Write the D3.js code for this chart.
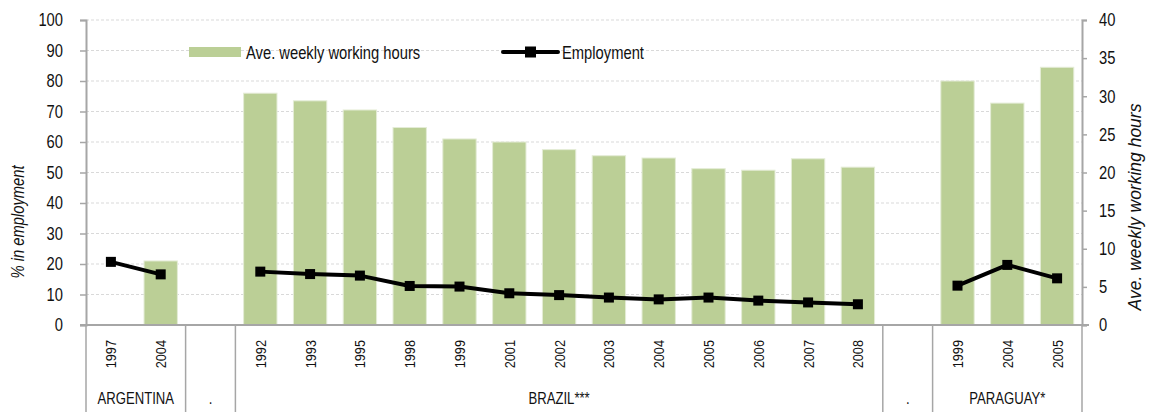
<!DOCTYPE html>
<html>
<head>
<meta charset="utf-8">
<script src="https://cdn.jsdelivr.net/npm/d3@7"></script>
<style>
  body { margin: 0; background: #fff; }
  svg { font-family: "Liberation Sans", Arial, sans-serif; }
</style>
</head>
<body>
<div id="chart"></div>
<script>
// Country groups and the survey years under each
var groups = ["ARGENTINA", ".", "BRAZIL***", ".", "PARAGUAY*"];
var groupYears = [
  ["1997", "2004"],
  [""],
  ["1992", "1993", "1995", "1998", "1999", "2001", "2002", "2003", "2004", "2005", "2006", "2007", "2008"],
  [""],
  ["1999", "2004", "2005"]
];

// Ave. weekly working hours (right axis), one per category
var hours = [null, 8.4,
  null,
  30.4, 29.4, 28.2, 25.9, 24.4, 24.0, 23.0, 22.2, 21.9, 20.5, 20.3, 21.8, 20.7,
  null,
  32.0, 29.1, 33.8];

// % in employment (left axis)
var employment = [20.7, 16.6,
  null,
  17.5, 16.7, 16.2, 12.8, 12.6, 10.4, 9.8, 9.0, 8.4, 9.0, 8.0, 7.4, 6.8,
  null,
  12.9, 19.7, 15.3];

var leftTicks = d3.range(0, 101, 10);
var rightTicks = d3.range(0, 41, 5);

// the original uses a narrow face; squeeze Liberation Sans horizontally
var NARROW = 0.82;

// flatten categories
var cats = [];
groupYears.forEach(function(ys, gi) {
  ys.forEach(function(y) { cats.push({ group: gi, year: y, key: gi + "|" + y }); });
});
cats.forEach(function(c, i) { c.hours = hours[i]; c.emp = employment[i]; });

var margin = {top: 20, right: 77, bottom: 87, left: 86},
    width = 1159 - margin.left - margin.right,
    height = 412 - margin.top - margin.bottom;

var svg = d3.select("#chart").append("svg")
    .attr("width", 1159)
    .attr("height", 412)
  .append("g")
    .attr("transform", "translate(" + margin.left + "," + margin.top + ")");

var x = d3.scaleBand()
    .domain(cats.map(function(d) { return d.key; }))
    .range([0, width])
    .padding(0);

var yL = d3.scaleLinear().domain([0, 100]).range([height, 0]);
var yR = d3.scaleLinear().domain([0, 40]).range([height, 0]);

// text helper: position, optional rotation, then horizontal squeeze
function label(parent, px, py, rot, str, size, anchor, italic, sx) {
  return parent.append("text")
    .attr("transform", "translate(" + px + "," + py + ")" + (rot ? " rotate(" + rot + ")" : "") + " scale(" + (sx || NARROW) + ",1)")
    .attr("text-anchor", anchor || "start")
    .attr("font-size", size)
    .attr("font-style", italic ? "italic" : "normal")
    .attr("fill", "#111")
    .text(str);
}

// Gridlines
svg.append("g")
    .selectAll("line")
    .data(leftTicks.filter(function(t) { return t > 0; }))
    .enter().append("line")
    .attr("x1", 0).attr("x2", width)
    .attr("y1", function(d) { return yL(d); })
    .attr("y2", function(d) { return yL(d); })
    .attr("stroke", "#d9d9d9")
    .attr("stroke-dasharray", "3,2")
    .attr("stroke-width", 1);

// Bars
var bw = x.bandwidth() * 0.67;
svg.selectAll(".bar")
    .data(cats.filter(function(d) { return d.hours != null; }))
    .enter().append("rect")
    .attr("class", "bar")
    .attr("x", function(d) { return x(d.key) + (x.bandwidth() - bw) / 2; })
    .attr("width", bw)
    .attr("y", function(d) { return yR(d.hours); })
    .attr("height", function(d) { return height - yR(d.hours); })
    .attr("fill", "#bbcf96")
    .attr("stroke", "#e4ecd6")
    .attr("stroke-width", 1);

// Employment line, broken at gaps
var line = d3.line()
    .defined(function(d) { return d.emp != null; })
    .x(function(d) { return x(d.key) + x.bandwidth() / 2; })
    .y(function(d) { return yL(d.emp); });

svg.append("path")
    .datum(cats)
    .attr("fill", "none")
    .attr("stroke", "#000")
    .attr("stroke-width", 4)
    .attr("stroke-linejoin", "round")
    .attr("d", line);

svg.selectAll(".pt")
    .data(cats.filter(function(d) { return d.emp != null; }))
    .enter().append("rect")
    .attr("class", "pt")
    .attr("x", function(d) { return x(d.key) + x.bandwidth() / 2 - 5; })
    .attr("y", function(d) { return yL(d.emp) - 5; })
    .attr("width", 10)
    .attr("height", 10)
    .attr("fill", "#000");

// squeeze axis tick texts in place
function squeeze(sel) {
  sel.selectAll(".tick text").each(function() {
    var t = d3.select(this);
    var tx = +t.attr("x");
    t.attr("x", 0).attr("transform", "translate(" + tx + ",0) scale(" + NARROW + ",1)");
  });
}

// Left axis
var axL = svg.append("g")
    .call(d3.axisLeft(yL).tickValues(leftTicks).tickSize(6).tickPadding(17));
axL.select(".domain").attr("stroke", "#a6a6a6").attr("stroke-width", 2);
axL.selectAll(".tick line").attr("stroke", "#a6a6a6").attr("stroke-width", 1.5);
axL.selectAll("text").attr("font-size", 18).attr("fill", "#111")
    .attr("font-family", "Liberation Sans, Arial");
squeeze(axL);

// Right axis
var axR = svg.append("g")
    .attr("transform", "translate(" + width + ",0)")
    .call(d3.axisRight(yR).tickValues(rightTicks).tickSize(5).tickPadding(12));
axR.select(".domain").attr("stroke", "#a6a6a6").attr("stroke-width", 2);
axR.selectAll(".tick line").attr("stroke", "#a6a6a6").attr("stroke-width", 1.5);
axR.selectAll("text").attr("font-size", 18).attr("fill", "#111")
    .attr("font-family", "Liberation Sans, Arial");
squeeze(axR);

// Bottom axis line
svg.append("line")
    .attr("x1", -6).attr("x2", width + 7)
    .attr("y1", height).attr("y2", height)
    .attr("stroke", "#a6a6a6").attr("stroke-width", 2);

// Year labels
cats.forEach(function(d) {
  label(svg, x(d.key) + x.bandwidth() / 2 + 5.5, height + 15, -90, d.year, 15.5, "end");
});

// Group separators and labels
var bounds = [0];
var idx = 0;
groupYears.forEach(function(ys) { idx += ys.length; bounds.push(idx); });
function edge(i) { return i === cats.length ? width : x(cats[i].key); }

svg.selectAll(".sep")
    .data(bounds)
    .enter().append("line")
    .attr("class", "sep")
    .attr("x1", function(d) { return edge(d); })
    .attr("x2", function(d) { return edge(d); })
    .attr("y1", height)
    .attr("y2", height + margin.bottom)
    .attr("stroke", "#a6a6a6")
    .attr("stroke-width", 1.5);

groups.forEach(function(g, i) {
  label(svg, (edge(bounds[i]) + edge(bounds[i + 1])) / 2, height + 79, 0, g, 16, "middle");
});

// Axis titles
label(svg, -62, 222 - margin.top, -90, "%  in employment", 18, "middle", true);
label(svg, width + 59, 207 - margin.top, -90, "Ave. weekly working hours", 17.5, "middle", true, 1);

// Legend
var lg = svg.append("g").attr("transform", "translate(" + (189 - margin.left) + "," + (52 - margin.top) + ")");
lg.append("rect").attr("x", 0).attr("y", -5).attr("width", 52).attr("height", 10).attr("fill", "#bbcf96");
label(lg, 57, 6.5, 0, "Ave. weekly working hours", 18, "start");
lg.append("line").attr("x1", 314).attr("x2", 369).attr("y1", 0).attr("y2", 0)
    .attr("stroke", "#000").attr("stroke-width", 4).attr("stroke-linecap", "round");
lg.append("rect").attr("x", 336).attr("y", -5.5).attr("width", 11).attr("height", 11).attr("fill", "#000");
label(lg, 373, 6.5, 0, "Employment", 18, "start");
</script>
</body>
</html>
